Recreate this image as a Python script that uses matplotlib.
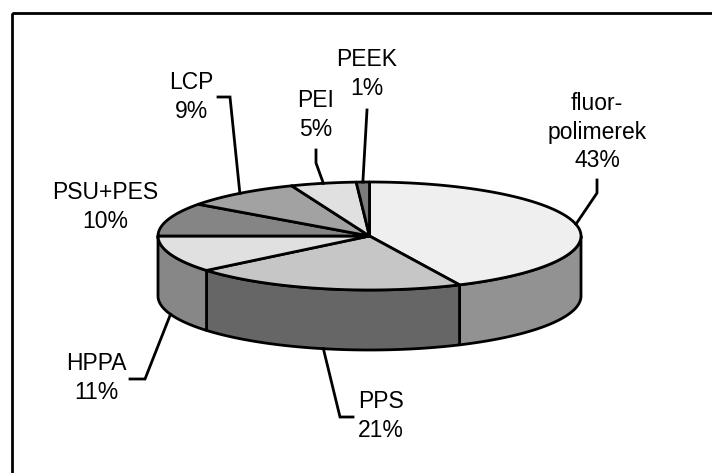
import numpy as np
import matplotlib.pyplot as plt
from matplotlib.patches import Polygon, Rectangle

# slice data (clockwise from 12 o'clock)
names = ['fluor-\npolimerek', 'PPS', 'HPPA', 'PSU+PES', 'LCP', 'PEI', 'PEEK']
shares = [43, 21, 11, 10, 9, 5, 1]

top_colors = ['#efefef', '#c6c6c6', '#e0e0e0', '#858585', '#a2a2a2', '#e0e0e0', '#7c7c7c']
side_colors = ['#929292', '#666666', '#878787', '#666666', '#777777', '#999999', '#555555']

# label layout in pixel coords (x, y of label centre)
label_pos = [(597, 132), (381, 416), (96, 378), (105, 207), (191, 97), (316, 115), (367, 74)]
# leader knots from label side, the rim point is added from the slice angle
leader_knots = [[(597, 180), (597, 193)],
                [(353, 417), (340, 417)],
                [(130, 379), (145, 379)],
                [],
                [(218, 97), (230, 97)],
                [(316, 150), (316, 163)],
                [(367, 110)]]

cx, cy = 369.5, 236.0
a, b = 211.5, 54.0
depth = 60.0


def rim(theta, dz=0.0):
    return cx + a * np.cos(theta), cy - b * np.sin(theta) + dz


fig = plt.figure(figsize=(7.12, 4.73), dpi=100)
ax = fig.add_axes([0, 0, 1, 1])
ax.set_xlim(0, 712)
ax.set_ylim(473, 0)
ax.axis('off')

ax.add_patch(Rectangle((12, 13), 720, 480, fill=False, lw=2, ec='black'))

fracs = np.array(shares) / sum(shares)
ends = np.deg2rad(90 - 360 * np.cumsum(fracs))
starts = np.concatenate([[np.deg2rad(90)], ends[:-1]])

# side walls (only the front half, angles between -180 and 0)
for i in range(len(shares)):
    t0, t1 = starts[i], ends[i]
    lo, hi = min(t0, t1), max(t0, t1)
    for shift in (0, -2 * np.pi):
        s_lo, s_hi = max(lo + shift, -np.pi), min(hi + shift, 0)
        if s_hi <= s_lo:
            continue
        tt = np.linspace(s_lo, s_hi, 80)
        x1, y1 = rim(tt)
        x2, y2 = rim(tt[::-1], depth)
        pts = np.column_stack([np.concatenate([x1, x2]), np.concatenate([y1, y2])])
        ax.add_patch(Polygon(pts, closed=True, fc=side_colors[i], ec='black', lw=2, joinstyle='round'))

# top faces
for i in range(len(shares)):
    tt = np.linspace(starts[i], ends[i], 120)
    x, y = rim(tt)
    pts = np.column_stack([np.concatenate([[cx], x]), np.concatenate([[cy], y])])
    ax.add_patch(Polygon(pts, closed=True, fc=top_colors[i], ec='black', lw=2, joinstyle='round'))

# labels and leader lines
for i, name in enumerate(names):
    lx, ly = label_pos[i]
    ax.text(lx, ly, f'{name}\n{shares[i]}%', ha='center', va='center',
            fontsize=16.5, family=['Liberation Sans', 'DejaVu Sans'], linespacing=1.3)
    if not leader_knots[i]:
        continue
    mid = (starts[i] + ends[i]) / 2
    if np.sin(mid) < 0:
        rx, ry = rim(mid, depth)
    else:
        rx, ry = rim(mid)
    xs = [p[0] for p in leader_knots[i]] + [rx]
    ys = [p[1] for p in leader_knots[i]] + [ry]
    ax.plot(xs, ys, color='black', lw=2, solid_joinstyle='miter')

fig.savefig('out.png', dpi=100)
